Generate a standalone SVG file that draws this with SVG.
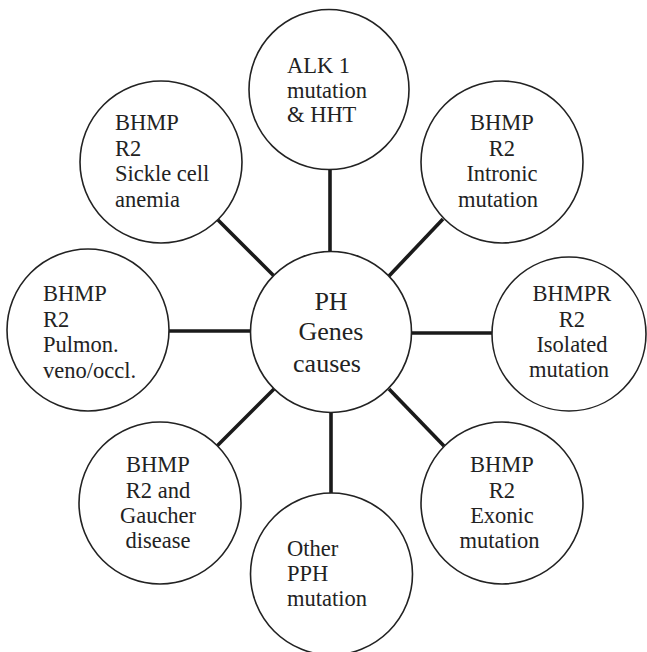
<svg xmlns="http://www.w3.org/2000/svg" width="647" height="652" viewBox="0 0 647 652" font-family="'Liberation Serif', serif">
<style>
.n{fill:#fff;stroke:#222;stroke-width:1.6}
.c{stroke:#1a1a1a;stroke-width:3.6;stroke-linecap:butt}
.t{font-family:'Liberation Serif',serif;font-size:22.5px;fill:#222}
.m{text-anchor:middle}
.big{font-size:26px}
</style>
<rect width="647" height="652" fill="#fff"/>
<g id="connectors">
<line class="c" x1="330" y1="169" x2="330" y2="252"/>
<line class="c" x1="331" y1="412" x2="331" y2="494"/>
<line class="c" x1="169" y1="331" x2="251" y2="331"/>
<line class="c" x1="411" y1="333" x2="492" y2="333"/>
<line class="c" x1="217" y1="219" x2="274" y2="276"/>
<line class="c" x1="443" y1="219" x2="389" y2="276"/>
<line class="c" x1="217" y1="446" x2="274" y2="389"/>
<line class="c" x1="444" y1="446" x2="389" y2="389"/>
</g>
<g id="center">
<circle class="n" cx="331" cy="332" r="80.5"/>
<text class="t m big" x="331" y="310">PH</text>
<text class="t m big" x="331" y="340">Genes</text>
<text class="t m big" x="327" y="371.5">causes</text>
</g>
<g id="alk1">
<circle class="n" cx="329" cy="89.5" r="80"/>
<text class="t" x="287" y="72.7">ALK 1</text>
<text class="t" x="287" y="97.5">mutation</text>
<text class="t" x="287" y="122.3">&amp; HHT</text>
</g>
<g id="sickle">
<circle class="n" cx="161" cy="162" r="81"/>
<text class="t" x="115" y="130">BHMP</text>
<text class="t" x="115" y="156">R2</text>
<text class="t" x="115" y="180.7">Sickle cell</text>
<text class="t" x="115" y="206.5">anemia</text>
</g>
<g id="intronic">
<circle class="n" cx="502" cy="162" r="81"/>
<text class="t m" x="502" y="129.5">BHMP</text>
<text class="t m" x="502" y="155.7">R2</text>
<text class="t m" x="502" y="180.7">Intronic</text>
<text class="t m" x="498" y="206.5">mutation</text>
</g>
<g id="pulmon">
<circle class="n" cx="88" cy="330" r="81"/>
<text class="t" x="43" y="300.7">BHMP</text>
<text class="t" x="43" y="326.7">R2</text>
<text class="t" x="43" y="351.7">Pulmon.</text>
<text class="t" x="43" y="377.5">veno/occl.</text>
</g>
<g id="isolated">
<circle class="n" cx="569" cy="334" r="77"/>
<text class="t m" x="572" y="300.7">BHMPR</text>
<text class="t m" x="572" y="326.7">R2</text>
<text class="t m" x="572" y="351.7">Isolated</text>
<text class="t m" x="569" y="377.3">mutation</text>
</g>
<g id="gaucher">
<circle class="n" cx="160" cy="503" r="81"/>
<text class="t m" x="158" y="471.7">BHMP</text>
<text class="t m" x="158" y="497.7">R2 and</text>
<text class="t m" x="158" y="522.7">Gaucher</text>
<text class="t m" x="158" y="547.7">disease</text>
</g>
<g id="exonic">
<circle class="n" cx="502" cy="503" r="81"/>
<text class="t m" x="502" y="471.7">BHMP</text>
<text class="t m" x="502" y="497.7">R2</text>
<text class="t m" x="502" y="522.7">Exonic</text>
<text class="t m" x="499.5" y="547.7">mutation</text>
</g>
<g id="other">
<circle class="n" cx="331.5" cy="574" r="81"/>
<text class="t" x="287" y="555.7">Other</text>
<text class="t" x="287" y="581">PPH</text>
<text class="t" x="287" y="605.7">mutation</text>
</g>
</svg>
